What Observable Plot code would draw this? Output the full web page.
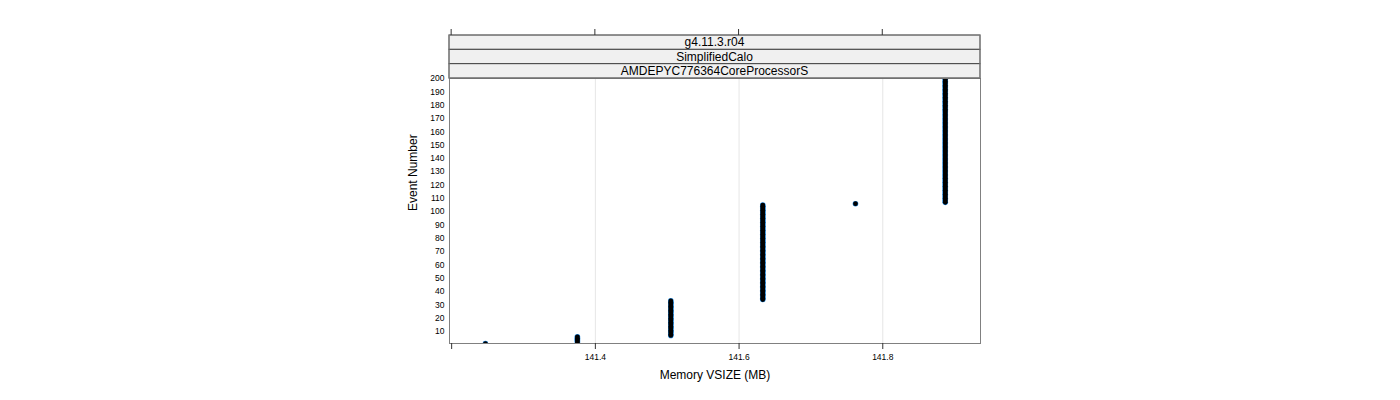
<!DOCTYPE html>
<html><head><meta charset="utf-8">
<script src="https://cdn.jsdelivr.net/npm/d3@7"></script>
<script src="https://cdn.jsdelivr.net/npm/@observablehq/plot@0.6"></script>
<style>body{margin:0;background:#fff} #chart{width:1400px;height:400px}</style>
</head><body><div id="chart"></div>
<script>
const stripLabels = ["g4.11.3.r04", "SimplifiedCalo", "AMDEPYC776364CoreProcessorS"];
const xLabel = "Memory VSIZE (MB)";
const yLabel = "Event Number";
const xTicks = [141.2, 141.4, 141.6, 141.8];
const xTickLabels = ["", "141.4", "141.6", "141.8"];
const yTicks = [10, 20, 30, 40, 50, 60, 70, 80, 90, 100, 110, 120, 130, 140, 150, 160, 170, 180, 190, 200];

const eventNumber = [
  1, 2, 3, 4, 5, 6, 7, 8, 9, 10,
  11, 12, 13, 14, 15, 16, 17, 18, 19, 20,
  21, 22, 23, 24, 25, 26, 27, 28, 29, 30,
  31, 32, 33, 34, 35, 36, 37, 38, 39, 40,
  41, 42, 43, 44, 45, 46, 47, 48, 49, 50,
  51, 52, 53, 54, 55, 56, 57, 58, 59, 60,
  61, 62, 63, 64, 65, 66, 67, 68, 69, 70,
  71, 72, 73, 74, 75, 76, 77, 78, 79, 80,
  81, 82, 83, 84, 85, 86, 87, 88, 89, 90,
  91, 92, 93, 94, 95, 96, 97, 98, 99, 100,
  101, 102, 103, 104, 105, 106, 107, 108, 109, 110,
  111, 112, 113, 114, 115, 116, 117, 118, 119, 120,
  121, 122, 123, 124, 125, 126, 127, 128, 129, 130,
  131, 132, 133, 134, 135, 136, 137, 138, 139, 140,
  141, 142, 143, 144, 145, 146, 147, 148, 149, 150,
  151, 152, 153, 154, 155, 156, 157, 158, 159, 160,
  161, 162, 163, 164, 165, 166, 167, 168, 169, 170,
  171, 172, 173, 174, 175, 176, 177, 178, 179, 180,
  181, 182, 183, 184, 185, 186, 187, 188, 189, 190,
  191, 192, 193, 194, 195, 196, 197, 198, 199, 200
];
const vsizeMB = [
  141.247, 141.375, 141.375, 141.375, 141.375, 141.375, 141.505, 141.505, 141.505, 141.505,
  141.505, 141.505, 141.505, 141.505, 141.505, 141.505, 141.505, 141.505, 141.505, 141.505,
  141.505, 141.505, 141.505, 141.505, 141.505, 141.505, 141.505, 141.505, 141.505, 141.505,
  141.505, 141.505, 141.505, 141.633, 141.633, 141.633, 141.633, 141.633, 141.633, 141.633,
  141.633, 141.633, 141.633, 141.633, 141.633, 141.633, 141.633, 141.633, 141.633, 141.633,
  141.633, 141.633, 141.633, 141.633, 141.633, 141.633, 141.633, 141.633, 141.633, 141.633,
  141.633, 141.633, 141.633, 141.633, 141.633, 141.633, 141.633, 141.633, 141.633, 141.633,
  141.633, 141.633, 141.633, 141.633, 141.633, 141.633, 141.633, 141.633, 141.633, 141.633,
  141.633, 141.633, 141.633, 141.633, 141.633, 141.633, 141.633, 141.633, 141.633, 141.633,
  141.633, 141.633, 141.633, 141.633, 141.633, 141.633, 141.633, 141.633, 141.633, 141.633,
  141.633, 141.633, 141.633, 141.633, 141.633, 141.762, 141.887, 141.887, 141.887, 141.887,
  141.887, 141.887, 141.887, 141.887, 141.887, 141.887, 141.887, 141.887, 141.887, 141.887,
  141.887, 141.887, 141.887, 141.887, 141.887, 141.887, 141.887, 141.887, 141.887, 141.887,
  141.887, 141.887, 141.887, 141.887, 141.887, 141.887, 141.887, 141.887, 141.887, 141.887,
  141.887, 141.887, 141.887, 141.887, 141.887, 141.887, 141.887, 141.887, 141.887, 141.887,
  141.887, 141.887, 141.887, 141.887, 141.887, 141.887, 141.887, 141.887, 141.887, 141.887,
  141.887, 141.887, 141.887, 141.887, 141.887, 141.887, 141.887, 141.887, 141.887, 141.887,
  141.887, 141.887, 141.887, 141.887, 141.887, 141.887, 141.887, 141.887, 141.887, 141.887,
  141.887, 141.887, 141.887, 141.887, 141.887, 141.887, 141.887, 141.887, 141.887, 141.887,
  141.887, 141.887, 141.887, 141.887, 141.887, 141.887, 141.887, 141.887, 141.887, 141.887
];

const data = eventNumber.map((e, i) => ({event: e, vsize: vsizeMB[i]}));

const W = 1400, H = 400, mL = 449, mR = 420, mT = 78, mB = 57;
const font = '"Liberation Sans", Arial, Helvetica, sans-serif';

const plot = Plot.plot({
  width: W, height: H,
  marginLeft: mL, marginRight: mR, marginTop: mT, marginBottom: mB,
  style: {fontFamily: font, background: "#fff", overflow: "visible", color: "#000"},
  x: {domain: [141.197, 141.936]},
  y: {domain: [1, 200]},
  marks: [
    Plot.gridX(xTicks.slice(1), {stroke: "#e6e6e6", strokeOpacity: 1}),
    Plot.dot(data, {x: "vsize", y: "event", r: 2.8, fill: "#1a86e0", stroke: "none", clip: true}),
    Plot.dot(data, {x: "vsize", y: "event", r: 2.35, fill: "black", stroke: "none", clip: true}),
    Plot.frame({stroke: "#808080"}),
    Plot.axisX({ticks: xTicks, tickFormat: d => xTickLabels[xTicks.indexOf(d)], tickSize: 6, tickPadding: 4, fontSize: 8.5, label: null, stroke: "#333"}),
    Plot.axisY({ticks: yTicks, tickSize: 0, tickPadding: 5, fontSize: 8.5, label: null}),
    Plot.text([xLabel], {text: d => d, frameAnchor: "bottom", dy: 35, fontSize: 12}),
    Plot.text([yLabel], {text: d => d, frameAnchor: "left", dx: -36, rotate: -90, fontSize: 12})
  ]
});

document.getElementById("chart").appendChild(plot);

// lattice-style strips above the panel, plus top-side ticks
const svg = d3.select(plot);
const xs = plot.scale("x");
const stripH = 14.33;
const stripTop = mT - stripH * stripLabels.length;
const left = mL, right = W - mR;
const g = svg.append("g");
stripLabels.forEach((lab, i) => {
  const y0 = stripTop + i * stripH;
  g.append("rect").attr("x", left).attr("y", y0).attr("width", right - left).attr("height", stripH)
    .attr("fill", "#f0f0f0").attr("stroke", "#444").attr("stroke-width", 1);
  g.append("text").attr("x", (left + right) / 2).attr("y", y0 + stripH / 2).attr("dy", "0.35em")
    .attr("text-anchor", "middle").attr("font-size", 12).attr("font-family", font).attr("fill", "#000").text(lab);
});
g.append("rect").attr("x", left).attr("y", stripTop).attr("width", right - left).attr("height", mT - stripTop)
  .attr("fill", "none").attr("stroke", "#808080");
xTicks.forEach(t => {
  const px = xs.apply(t);
  g.append("line").attr("x1", px).attr("x2", px).attr("y1", stripTop - 6).attr("y2", stripTop).attr("stroke", "#333");
});
</script>
</body></html>
